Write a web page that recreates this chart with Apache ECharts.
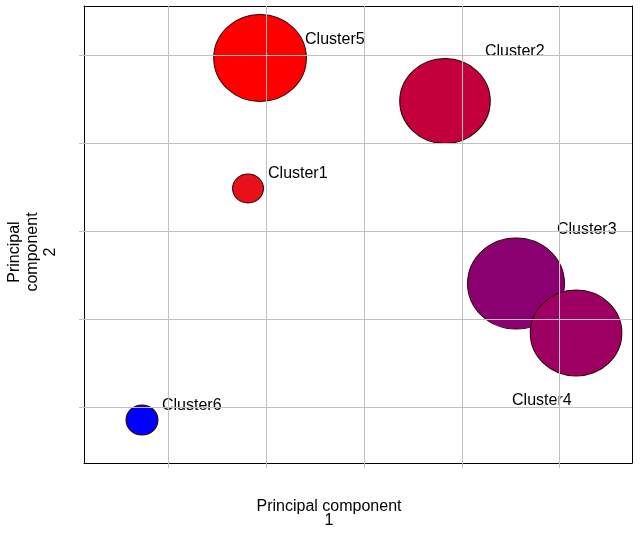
<!DOCTYPE html>
<html>
<head>
<meta charset="utf-8">
<script src="https://cdn.jsdelivr.net/npm/echarts@6/dist/echarts.min.js"></script>
<style>html,body{margin:0;padding:0;background:#fff}#c{width:644px;height:536px}</style>
</head>
<body>
<div id="c"></div>
<script>
var clusters = ['Cluster1', 'Cluster2', 'Cluster3', 'Cluster4', 'Cluster5', 'Cluster6'];
var pc1 = [1.813, 3.827, 4.553, 5.167, 1.936, 0.729];
var pc2 = [3.483, 4.477, 2.403, 1.841, 4.966, 0.852];
var sizes = [29, 85, 91, 86, 87, 30];
var xTicks = [1, 2, 3, 4, 5];
var yTicks = [1, 2, 3, 4, 5];

var colors = ['#E8101C', '#C3003C', '#8B0070', '#9D0062', '#FF0000', '#0000FF'];
var labelOffsets = [[20, -14.5], [40, -49.5], [41, -53.5], [-64, 67.5], [45, -18.5], [20, -14.5]];
var FONT = 'Arial, "Liberation Sans", sans-serif';

var chart = echarts.init(document.getElementById('c'), null, {renderer: 'canvas'});

var bubbleData = clusters.map(function (name, i) {
  return {
    name: name,
    value: [pc1[i], pc2[i], sizes[i]],
    itemStyle: {color: colors[i]},
    label: {offset: labelOffsets[i]}
  };
});

var gridLines = xTicks.map(function (v) { return {xAxis: v}; })
  .concat(yTicks.map(function (v) { return {yAxis: v}; }));

var frameLine = {show: true, onZero: false, lineStyle: {color: '#000', width: 1}};

chart.setOption({
  animation: false,
  backgroundColor: '#fff',
  grid: {left: 84, top: 6, width: 548, height: 457, show: false},
  xAxis: [{
    type: 'value', min: 0.136, max: 5.739, position: 'bottom',
    axisLine: frameLine,
    splitLine: {show: false},
    axisTick: {show: true, customValues: xTicks, length: 5, lineStyle: {color: '#c0c0c0'}},
    axisLabel: {show: false}
  }, {
    type: 'value', min: 0.136, max: 5.739, position: 'top',
    axisLine: frameLine, axisTick: {show: false}, axisLabel: {show: false}, splitLine: {show: false}
  }],
  yAxis: [{
    type: 'value', min: 0.364, max: 5.557, position: 'left',
    axisLine: frameLine,
    splitLine: {show: false},
    axisTick: {show: true, customValues: yTicks, length: 5, lineStyle: {color: '#c0c0c0'}},
    axisLabel: {show: false}
  }, {
    type: 'value', min: 0.364, max: 5.557, position: 'right',
    axisLine: frameLine, axisTick: {show: false}, axisLabel: {show: false}, splitLine: {show: false}
  }],
  graphic: [
    {type: 'text', x: 329, y: 514,
      style: {text: 'Principal component\n1', font: '16px ' + FONT, fill: '#000', textAlign: 'center', textVerticalAlign: 'middle', lineHeight: 14}},
    {type: 'text', x: 33, y: 252, rotation: Math.PI / 2,
      style: {text: 'Principal\ncomponent\n2', font: '16px ' + FONT, fill: '#000', textAlign: 'center', textVerticalAlign: 'middle', lineHeight: 18}}
  ],
  series: [
    {
      type: 'scatter', data: [], z: 1, silent: true,
      markLine: {
        silent: true, symbol: 'none', animation: false,
        label: {show: false},
        lineStyle: {color: '#c0c0c0', type: 'solid', width: 1},
        emphasis: {disabled: true},
        data: gridLines
      }
    },
    {
      type: 'scatter', z: 3,
      data: bubbleData,
      symbolSize: function (val) { return [val[2] * 1.065, val[2]]; },
      itemStyle: {borderColor: '#300000', borderWidth: 1, opacity: 1},
      label: {
        show: true, position: 'inside', align: 'left', verticalAlign: 'middle',
        formatter: '{b}', color: '#000', fontSize: 16, fontFamily: FONT
      },
      emphasis: {disabled: true}
    }
  ]
});
</script>
</body>
</html>
